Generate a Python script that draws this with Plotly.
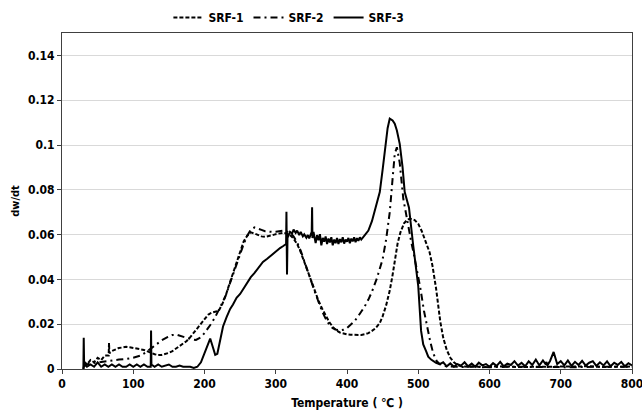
import plotly.graph_objects as go

# ---------------- data ----------------
SRF_1_T = [30, 32, 35, 40, 45, 50, 55, 60, 65.5, 66, 66.5, 70, 75, 80, 85, 90, 95, 100, 105, 110, 115, 120,
           125, 130, 135, 140, 145, 150, 155, 160, 165, 170, 175, 180, 185, 190, 195, 200, 205, 210, 215,
           220, 225, 230, 235, 240, 245, 250, 255, 260, 265, 270, 275, 280, 285, 290, 295, 300, 305, 310,
           315, 320, 325, 330, 335, 340, 345, 350, 355, 360, 365, 370, 375, 380, 385, 390, 395, 400, 405,
           410, 415, 420, 425, 430, 435, 440, 446, 450, 455, 460, 464, 467, 471, 475, 480, 485, 490, 495,
           500, 505, 510, 516, 520, 525, 531, 535, 540, 545, 550, 555, 560, 570, 580, 590, 600, 620, 640,
           660, 680, 700, 720, 740, 760, 780, 800]
SRF_1_V = [0.0, 0.003, 0.002, 0.004, 0.003, 0.005, 0.004, 0.006, 0.006, 0.0116, 0.007, 0.008, 0.0088,
           0.0094, 0.0096, 0.0099, 0.0097, 0.0095, 0.0093, 0.0088, 0.0085, 0.008, 0.0072, 0.0066, 0.0062,
           0.0063, 0.0066, 0.0072, 0.008, 0.0092, 0.0102, 0.0112, 0.0125, 0.0142, 0.0162, 0.0185, 0.0205,
           0.0225, 0.0242, 0.0252, 0.0255, 0.026, 0.029, 0.033, 0.038, 0.043, 0.048, 0.053, 0.057, 0.0595,
           0.061, 0.0605, 0.0598, 0.0592, 0.059, 0.0592, 0.0597, 0.0602, 0.0606, 0.0608, 0.0605, 0.0598,
           0.0582, 0.0558, 0.0522, 0.0478, 0.0432, 0.0388, 0.0345, 0.0305, 0.027, 0.0238, 0.021, 0.0188,
           0.0172, 0.0163, 0.0158, 0.0155, 0.0153, 0.0152, 0.0151, 0.0152, 0.0155, 0.016, 0.017, 0.0182,
           0.0205, 0.0235, 0.0285, 0.035, 0.042, 0.049, 0.056, 0.061, 0.065, 0.0668, 0.067, 0.0665, 0.0648,
           0.0615, 0.0575, 0.052, 0.046, 0.036, 0.021, 0.014, 0.0085, 0.005, 0.003, 0.0018, 0.0012,
           0.001, 0.0012, 0.0008, 0.001, 0.0012, 0.0009, 0.001, 0.0011, 0.0009, 0.001, 0.0012, 0.0009,
           0.001, 0.0011]

SRF_2_T = [30, 35, 40, 50, 60, 70, 80, 90, 100, 110, 118, 125, 132, 140, 148, 155, 162, 168, 175, 182,
           188, 195, 200, 205, 210, 215, 220, 225, 230, 235, 240, 245, 250, 255, 260, 265, 270, 275, 280,
           285, 290, 295, 300, 305, 310, 315, 320, 325, 330, 335, 340, 345, 350, 355, 360, 365, 370, 375,
           380, 385, 390, 395, 400, 405, 410, 415, 420, 425, 430, 435, 442, 450, 455, 460, 464, 467, 470,
           474, 479, 485, 490, 494, 498, 503, 508, 512, 517, 521, 526, 530, 535, 540, 550, 560, 580, 600,
           630, 660, 690, 720, 750, 780, 800]
SRF_2_V = [0.001, 0.002, 0.0025, 0.003, 0.0035, 0.004, 0.0042, 0.0045, 0.005, 0.006, 0.0075, 0.0092,
           0.011, 0.0128, 0.0142, 0.0152, 0.0152, 0.0146, 0.0138, 0.0132, 0.013, 0.0142, 0.016, 0.0182,
           0.0205, 0.0232, 0.0262, 0.0295, 0.033, 0.0375, 0.0422, 0.047, 0.0515, 0.0558, 0.0595, 0.0622,
           0.0632, 0.0628, 0.0621, 0.0615, 0.0612, 0.0612, 0.0613, 0.0616, 0.0618, 0.0615, 0.0607, 0.0592,
           0.0565, 0.0528, 0.0485, 0.0438, 0.039, 0.0343, 0.0298, 0.0258, 0.0225, 0.0198, 0.0182, 0.0175,
           0.0172, 0.0175, 0.0183, 0.0196, 0.0212, 0.0232, 0.0255, 0.028, 0.031, 0.0345, 0.0405, 0.049,
           0.058, 0.07, 0.085, 0.096, 0.099, 0.092, 0.076, 0.065, 0.057, 0.051, 0.045, 0.036, 0.026,
           0.019, 0.012, 0.007, 0.0035, 0.0022, 0.0015, 0.0012, 0.001, 0.0009, 0.0011, 0.0008, 0.001,
           0.0009, 0.0011, 0.0008, 0.001, 0.0009, 0.001]

SRF_3_T = [30, 30.5, 31, 32, 35, 40, 45, 50, 55, 60, 65, 70, 75, 80, 85, 90, 95, 100, 105, 110, 115, 120,
           124.5, 125, 125.5, 130, 135, 140, 145, 150, 155, 160, 165, 170, 175, 180, 185, 190, 195, 200,
           205, 208, 212, 215, 218, 222, 226, 231, 236, 240, 245, 250, 255, 260, 265, 270, 276, 282, 288,
           295, 300, 306, 310, 312, 314.5, 315, 315.8, 316.5, 318, 320, 323, 325, 328, 330, 333, 335, 338,
           340, 343, 345, 347, 349, 350.5, 351, 351.5, 353, 356, 358, 360, 362, 364, 366, 368, 370, 372,
           374, 376, 378, 380, 382, 384, 386, 388, 390, 392, 394, 396, 398, 400, 402, 404, 406, 408, 410,
           412, 414, 416, 418, 420, 425, 430, 435, 440, 446, 450, 454, 457, 460, 464, 467, 470, 474, 478,
           481, 487, 493, 500, 504, 507, 511, 514, 518, 521, 525, 530, 535, 540, 545, 550, 555, 560, 565,
           570, 575, 580, 585, 590, 595, 600, 605, 610, 615, 620, 625, 630, 635, 640, 645, 650, 655, 660,
           665, 670, 675, 679, 680, 681, 685, 690, 695, 700, 705, 710, 715, 720, 725, 730, 735, 740, 745,
           750, 755, 760, 765, 770, 775, 780, 785, 790, 795, 800]
SRF_3_V = [0.0, 0.014, 0.003, 0.002, 0.001, 0.002, 0.001, 0.003, 0.001, 0.002, 0.001, 0.002, 0.001,
           0.002, 0.001, 0.001, 0.002, 0.001, 0.002, 0.001, 0.002, 0.001, 0.001, 0.0172, 0.002, 0.001,
           0.002, 0.001, 0.0015, 0.002, 0.001, 0.001, 0.0015, 0.001, 0.001, 0.001, 0.0005, 0.001, 0.003,
           0.0072, 0.0118, 0.0136, 0.0095, 0.0063, 0.0068, 0.0125, 0.019, 0.0232, 0.0268, 0.0288, 0.0318,
           0.0335, 0.036, 0.038, 0.041, 0.0428, 0.0452, 0.0478, 0.0492, 0.0512, 0.0522, 0.054, 0.0548,
           0.0553, 0.0558, 0.0702, 0.0422, 0.0585, 0.0595, 0.0612, 0.0605, 0.0622, 0.0608, 0.0618, 0.0598,
           0.0612, 0.0592, 0.0601, 0.0586, 0.0598, 0.0583, 0.0602, 0.0612, 0.0722, 0.0585, 0.0612, 0.0562,
           0.0598, 0.0575, 0.0602, 0.0552, 0.0585, 0.0568, 0.0592, 0.0558, 0.0582, 0.0565, 0.0588, 0.0552,
           0.0578, 0.0562, 0.0585, 0.0558, 0.058, 0.0566, 0.0588, 0.056, 0.0578, 0.0568, 0.0585, 0.0562,
           0.0582, 0.057, 0.0588, 0.0566, 0.0584, 0.0572, 0.0588, 0.0578, 0.0598, 0.0618, 0.066, 0.072,
           0.079, 0.089, 0.0985, 0.1075, 0.1118, 0.111, 0.1095, 0.1065, 0.1005, 0.09, 0.079, 0.072, 0.055,
           0.037, 0.017, 0.011, 0.008, 0.0055, 0.0042, 0.0035, 0.0028, 0.0022, 0.003, 0.0012, 0.0025,
           0.001, 0.0022, 0.0015, 0.003, 0.0012, 0.0024, 0.001, 0.0028, 0.0016, 0.0022, 0.001, 0.0026,
           0.0014, 0.0032, 0.0012, 0.0024, 0.0018, 0.0035, 0.0015, 0.0028, 0.0012, 0.0034, 0.0018, 0.0042,
           0.0016, 0.0038, 0.002, 0.0032, 0.0015, 0.0036, 0.0076, 0.0022, 0.0035, 0.0016, 0.0038, 0.0014,
           0.0032, 0.0018, 0.0036, 0.0015, 0.0028, 0.0035, 0.0014, 0.003, 0.0016, 0.0034, 0.0012, 0.0028,
           0.0018, 0.0032, 0.0012, 0.0026, 0.0016, 0.003, 0.0012, 0.0028, 0.0014, 0.0032, 0.001, 0.0026]

X_TICKS = [0, 100, 200, 300, 400, 500, 600, 700, 800]
Y_TICKS = [0, 0.02, 0.04, 0.06, 0.08, 0.1, 0.12, 0.14]
Y_TICK_LABELS = ["0", "0.02", "0.04", "0.06", "0.08", "0.1", "0.12", "0.14"]

FONT = "DejaVu Sans Condensed, Liberation Sans Narrow, Arial Narrow, sans-serif"

fig = go.Figure()
fig.add_trace(go.Scatter(x=SRF_1_T, y=SRF_1_V, mode="lines", name="<b>SRF-1</b>",
                         line=dict(color="black", width=2, dash="4px,2px")))
fig.add_trace(go.Scatter(x=SRF_2_T, y=SRF_2_V, mode="lines", name="<b>SRF-2</b>",
                         line=dict(color="black", width=2, dash="7px,4px,2px,4px")))
fig.add_trace(go.Scatter(x=SRF_3_T, y=SRF_3_V, mode="lines", name="<b>SRF-3</b>",
                         line=dict(color="black", width=2)))

fig.update_layout(
    width=642, height=414,
    margin=dict(l=62, r=10, t=33, b=45, autoexpand=False),
    paper_bgcolor="white", plot_bgcolor="white",
    font=dict(family=FONT, size=12, color="black"),
    showlegend=True,
    legend=dict(orientation="h", xref="container", yref="container",
                x=0.45, xanchor="center", y=0.958, yanchor="middle",
                font=dict(family=FONT, size=12, color="black"),
                itemwidth=30, tracegroupgap=0, bgcolor="rgba(0,0,0,0)"),
)
fig.update_xaxes(range=[0, 800], tickvals=X_TICKS, ticktext=[f"<b>{v}</b>" for v in X_TICKS],
                 ticks="outside", ticklen=4, tickcolor="#404040", showline=True, linecolor="#404040",
                 linewidth=1, mirror=True, showgrid=False, zeroline=False, automargin=False,
                 ticklabeloverflow="allow",
                 title=dict(text="<b>Temperature ( ℃ )</b>", font=dict(family=FONT, size=12), standoff=8))
fig.update_yaxes(range=[0, 0.15], tickvals=Y_TICKS, ticktext=[f"<b>{v}</b>" for v in Y_TICK_LABELS],
                 ticks="outside", ticklen=4, tickcolor="#404040", showline=True, linecolor="#404040",
                 linewidth=1, mirror=True, showgrid=True, gridcolor="#d9d9d9", gridwidth=1,
                 zeroline=False, automargin=False, ticklabeloverflow="allow",
                 title=dict(text="<b>dw/dt</b>", font=dict(family=FONT, size=11), standoff=6))

fig.write_html("out.html")
